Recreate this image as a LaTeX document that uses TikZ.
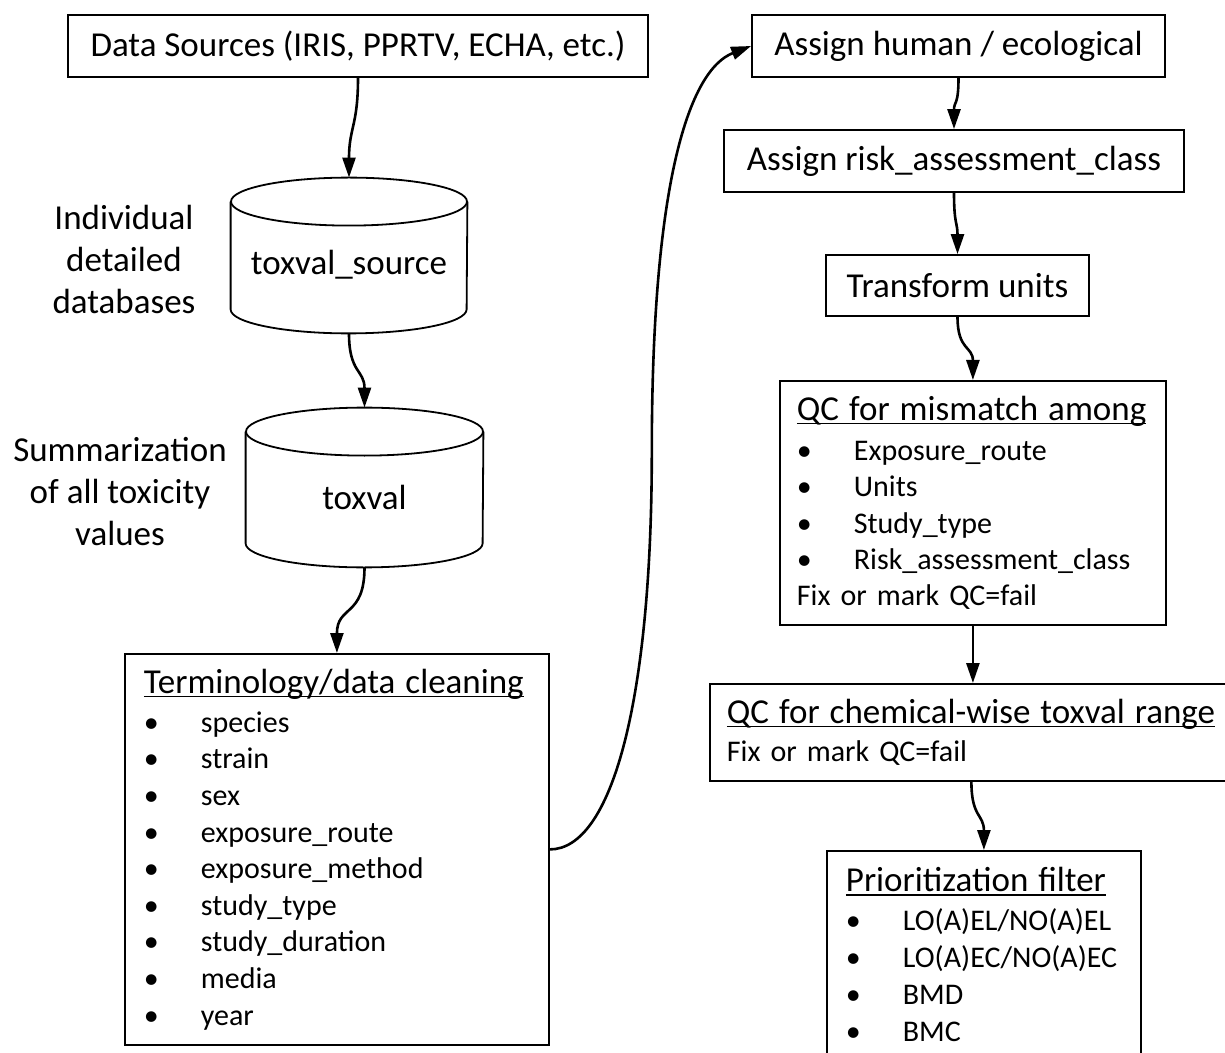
\documentclass[tikz,border=0pt]{standalone}
\usepackage{fontspec}
\setmainfont{Carlito}
\usetikzlibrary{arrows.meta,positioning}
\newcommand\ulttl[1]{\setbox0\hbox{#1}\rlap{\rule[-2pt]{\wd0}{0.8pt}}\box0}
\newcommand\ttl[1]{{\fontsize{17.5pt}{21pt}\selectfont\ulttl{#1}}}
\newcommand\itm[1]{\makebox[28.5pt][l]{\textbullet}#1}
\tikzset{
  stepbox/.style={draw, line width=0.9pt, inner sep=0pt, font=\fontsize{17.5pt}{21pt}\selectfont},
  listbox/.style={draw, line width=0.9pt, anchor=north west, align=left, inner ysep=0pt, font=\fontsize{15pt}{18.3pt}\selectfont},
  dbbody/.style={inner sep=0pt, font=\fontsize{17.5pt}{21pt}\selectfont},
  dbline/.style={line width=0.9pt},
  sidetext/.style={align=center, font=\fontsize{17.5pt}{21pt}\selectfont},
  flow/.style={-{Triangle[length=10pt,width=6.5pt]}, line width=1.3pt},
}

\begin{document}
\begin{tikzpicture}[x=0.5pt, y=-0.5pt]
  \useasboundingbox (0,0) rectangle (1225,1053);
  \clip (0,0) rectangle (1225,1053);
  % left column
  \node[stepbox, minimum width=290pt, minimum height=31pt] (dsrc) at (358,46) {Data Sources (IRIS, PPRTV, ECHA, etc.)};
  \node[dbbody, minimum width=118pt, minimum height=77.5pt] (src) at (349,255.5) {\raisebox{-9.5pt}[0pt][0pt]{toxval\_source}};
  \draw[dbline] ([yshift=-12pt]src.north west) -- ([yshift=12pt]src.south west) arc[start angle=180, end angle=360, x radius=59pt, y radius=12pt] -- ([yshift=-12pt]src.north east);
  \draw[dbline] ([yshift=-12pt]src.north) ellipse [x radius=59pt, y radius=12pt];
  \node[sidetext] (srclab) at (124,259) {Individual\\detailed\\databases};
  \node[dbbody, minimum width=118.5pt, minimum height=79.5pt] (tox) at (364.5,487.5) {\raisebox{-11pt}[0pt][0pt]{toxval}};
  \draw[dbline] ([yshift=-12pt]tox.north west) -- ([yshift=12pt]tox.south west) arc[start angle=180, end angle=360, x radius=59.25pt, y radius=12pt] -- ([yshift=-12pt]tox.north east);
  \draw[dbline] ([yshift=-12pt]tox.north) ellipse [x radius=59.25pt, y radius=12pt];
  \node[sidetext] (toxlab) at (120,492) {Summarization\\of all toxicity\\values};
  \node[listbox, inner xsep=9.5pt, text width=193pt, minimum height=195.5pt] (term) at (124,653) {\ttl{Terminology/data cleaning}\\[1.2pt]
    \itm{species}\\ \itm{strain}\\ \itm{sex}\\ \itm{exposure\_route}\\ \itm{exposure\_method}\\
    \itm{study\_type}\\ \itm{study\_duration}\\ \itm{media}\\ \itm{year}};
  % right column
  \node[stepbox, minimum width=206.5pt, minimum height=31pt] (human) at (958.5,46) {Assign human / ecological};
  \node[stepbox, minimum width=230pt, minimum height=31pt] (risk) at (954,161) {Assign risk\_assessment\_class};
  \node[stepbox, minimum width=131.5pt, minimum height=30.5pt] (trans) at (957.5,285.5) {Transform units};
  \node[listbox, inner xsep=8.5pt, text width=176pt, minimum height=122pt, font=\fontsize{15pt}{18.2pt}\selectfont] (qcm) at (779,380) {\ttl{QC for mismatch among}\\[1.8pt]
    \itm{Exposure\_route}\\ \itm{Units}\\ \itm{Study\_type}\\ \itm{Risk\_assessment\_class}\\ Fix or mark QC=fail};
  \node[listbox, inner xsep=8.5pt, text width=244.5pt, minimum height=48.5pt] (qcc) at (709,683) {\ttl{QC for chemical-wise toxval range}\\[1pt]
    Fix or mark QC=fail};
  \node[listbox, inner xsep=9.5pt, text width=138pt, minimum height=104pt, font=\fontsize{15pt}{18.5pt}\selectfont] (prio) at (826,850) {\ttl{Prioritization filter}\\[1pt]
    \itm{LO(A)EL/NO(A)EL}\\ \itm{LO(A)EC/NO(A)EC}\\ \itm{BMD}\\ \itm{BMC}};
  % connectors
  \draw[flow] (dsrc.south) .. controls +(0,48) and +(0,-50) .. (src.north);
  \draw[flow] (src.south) .. controls +(0,40) and +(0,-38) .. (tox.north);
  \draw[flow] (tox.south) .. controls +(0,50) and +(0,-48) .. (term.north);
  \draw[flow] (term.east) .. controls +(62,0) and +(0,250) .. ++(102,-398) .. controls +(0,-270) and +(-62,24) .. (human.west);
  \draw[flow] (human.south) .. controls +(0,28) and +(0,-28) .. (risk.north);
  \draw[flow] (risk.south) .. controls +(0,32) and +(0,-32) .. (trans.north);
  \draw[flow] (trans.south) .. controls +(0,34) and +(0,-34) .. (qcm.north);
  \draw[flow] (qcm.south) -- (qcm.south |- qcc.north);
  \draw[flow] (qcc.south) .. controls +(0,36) and +(0,-36) .. (prio.north);
\end{tikzpicture}
\end{document}
